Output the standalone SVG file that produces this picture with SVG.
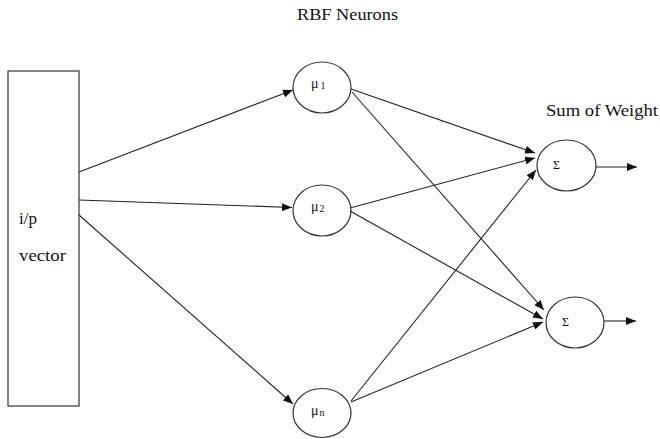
<svg xmlns="http://www.w3.org/2000/svg" width="660" height="439" viewBox="0 0 660 439">
<style>
.shape{fill:#fff;stroke:#333;stroke-width:1.2}
.edge{stroke:#222;stroke-width:1.1;fill:none;marker-end:url(#ah)}
text{font-family:'Liberation Serif','Times New Roman','DejaVu Serif',serif;fill:#111}
.big{font-size:17px}
.mu{font-size:14px}
.sub{font-size:10px}
.sig{font-size:12px}
</style>
<defs>
<marker id="ah" markerWidth="10" markerHeight="8" refX="10" refY="4" orient="auto" markerUnits="userSpaceOnUse">
<path d="M0,0 L10,4 L0,8 z" fill="#111"/>
</marker>
</defs>
<rect width="660" height="439" fill="#fff"/>
<g font-family="Liberation Serif, serif">
<text class="big" x="297" y="20" textLength="101" lengthAdjust="spacingAndGlyphs">RBF Neurons</text>
<text class="big" x="546" y="116" textLength="112" lengthAdjust="spacingAndGlyphs">Sum of Weight</text>
</g>
<g id="input" font-family="Liberation Serif, serif">
<rect class="shape" x="8" y="71" width="71" height="335"/>
<text class="big" x="19" y="224">i/p</text>
<text class="big" x="19" y="261" textLength="47" lengthAdjust="spacingAndGlyphs">vector</text>
</g>
<g id="mu1" font-family="Liberation Serif, serif">
<ellipse class="shape" cx="322" cy="87.5" rx="29" ry="25.5"/>
<text class="mu" x="311" y="88">μ<tspan class="sub" dx="2" dy="1">1</tspan></text>
</g>
<g id="mu2" font-family="Liberation Serif, serif">
<ellipse class="shape" cx="322" cy="210.5" rx="29" ry="25.5"/>
<text class="mu" x="311" y="211">μ<tspan class="sub" dx="1" dy="1">2</tspan></text>
</g>
<g id="mun" font-family="Liberation Serif, serif">
<ellipse class="shape" cx="322" cy="413" rx="29" ry="24.5"/>
<text class="mu" x="311" y="415">μ<tspan class="sub" dx="1" dy="1">n</tspan></text>
</g>
<g id="sum1" font-family="Liberation Serif, serif">
<ellipse class="shape" cx="566.5" cy="165.5" rx="29.5" ry="25.5"/>
<text class="sig" x="553" y="169">Σ</text>
</g>
<g id="sum2" font-family="Liberation Serif, serif">
<ellipse class="shape" cx="575" cy="322.5" rx="29" ry="25.5"/>
<text class="sig" x="562" y="326">Σ</text>
</g>
<g id="connectors">
<line class="edge" x1="79" y1="172" x2="293" y2="90"/>
<line class="edge" x1="79" y1="200" x2="292" y2="207.5"/>
<line class="edge" x1="79" y1="215" x2="293" y2="404"/>
<line class="edge" x1="351" y1="89" x2="535" y2="153"/>
<line class="edge" x1="352" y1="92" x2="544" y2="310"/>
<line class="edge" x1="350" y1="208" x2="535" y2="158"/>
<line class="edge" x1="350" y1="211" x2="543" y2="319"/>
<line class="edge" x1="351" y1="401" x2="536" y2="170"/>
<line class="edge" x1="351" y1="402" x2="543" y2="322"/>
<line class="edge" x1="596" y1="167" x2="637" y2="167"/>
<line class="edge" x1="604" y1="321" x2="636" y2="321"/>
</g>
</svg>
